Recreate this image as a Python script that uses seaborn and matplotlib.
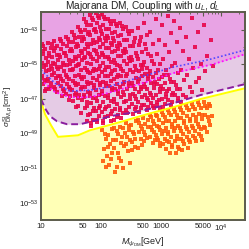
import numpy as np
import pandas as pd
import matplotlib
matplotlib.use("Agg")
import matplotlib.pyplot as plt
import seaborn as sns

# ---------------- data (log10 values) ----------------
# boundary curves: log10(M/GeV) and log10(sigma/cm^2)
blue_log_mass = [1.0, 1.233, 1.483, 1.817, 2.1, 2.65, 3.2, 3.767, 4.4]
blue_log_sigma = [-45.33, -46.09, -46.55, -46.49, -46.32, -45.74, -45.16, -44.75, -44.17]

magenta_log_mass = [1.0, 1.233, 1.483, 1.817, 2.1, 2.65, 3.2, 3.867, 4.4]
magenta_log_sigma = [-45.91, -46.61, -46.9, -46.9, -46.67, -46.14, -45.51, -44.99, -44.41]

dashed_log_mass = [1.0, 1.067, 1.15, 1.267, 1.433, 1.65, 1.933, 2.15, 2.65, 3.2, 3.65, 4.4]
dashed_log_sigma = [-47.0, -47.54, -48.0, -48.29, -48.46, -48.46, -48.23, -48.0, -47.71, -47.25, -46.78, -46.14]

yellow_log_mass = [1.0, 1.017, 1.067, 1.167, 1.283, 1.4, 1.617, 1.817, 2.0, 2.333, 2.817, 3.2, 3.65, 4.4]
yellow_log_sigma = [-46.61, -47.3, -47.88, -48.52, -49.19, -49.16, -49.1, -48.81, -48.64, -48.32, -47.83, -47.48, -47.01, -46.38]

# scan points above the yellow curve (red)
red_log_mass = [
    1.02, 1.06, 1.03, 1.08, 1.01, 1.05, 1.09, 1.02, 1.07, 1.04, 1.08,
    1.12, 1.17, 1.14, 1.19, 1.11, 1.16, 1.13, 1.18, 1.12, 1.17, 1.14,
    1.22, 1.27, 1.21, 1.26, 1.29, 1.23, 1.28, 1.21, 1.25, 1.29, 1.22, 1.27,
    1.31, 1.36, 1.33, 1.38, 1.32, 1.37, 1.34, 1.39, 1.31, 1.36, 1.33, 1.38, 1.35,
    1.42, 1.47, 1.44, 1.49, 1.41, 1.46, 1.43, 1.48, 1.42, 1.47, 1.44, 1.49, 1.41, 1.46,
    1.52, 1.57, 1.54, 1.59, 1.51, 1.56, 1.53, 1.58, 1.52, 1.57, 1.54, 1.59, 1.51, 1.56, 1.53, 1.58,
    1.62, 1.67, 1.64, 1.69, 1.61, 1.66, 1.63, 1.68, 1.62, 1.67, 1.64, 1.69, 1.61, 1.66, 1.63, 1.68, 1.62, 1.67,
    1.72, 1.77, 1.74, 1.79, 1.71, 1.76, 1.73, 1.78, 1.72, 1.77, 1.74, 1.79, 1.71, 1.76, 1.73, 1.78, 1.72, 1.77, 1.74, 1.79, 1.76,
    1.82, 1.87, 1.84, 1.89, 1.81, 1.86, 1.83, 1.88, 1.82, 1.87, 1.84, 1.89, 1.81, 1.86, 1.83, 1.88, 1.82, 1.87, 1.84, 1.89, 1.81, 1.86, 1.83,
    1.92, 1.97, 1.94, 1.99, 1.91, 1.96, 1.93, 1.98, 1.92, 1.97, 1.94, 1.99, 1.91, 1.96, 1.93, 1.98, 1.92, 1.97, 1.94, 1.99, 1.91, 1.96, 1.93,
    2.02, 2.07, 2.04, 2.09, 2.01, 2.06, 2.03, 2.08, 2.02, 2.07, 2.04, 2.09, 2.01, 2.06, 2.03, 2.08, 2.02, 2.07, 2.04, 2.09, 2.01, 2.06, 2.03,
    2.12, 2.17, 2.14, 2.19, 2.11, 2.16, 2.13, 2.18, 2.12, 2.17, 2.14, 2.19, 2.11, 2.16, 2.13, 2.18, 2.12, 2.17, 2.14, 2.19, 2.11, 2.16,
    2.22, 2.27, 2.24, 2.29, 2.21, 2.26, 2.23, 2.28, 2.22, 2.27, 2.24, 2.29, 2.21, 2.26, 2.23, 2.28, 2.22, 2.27, 2.24, 2.29, 2.21,
    2.32, 2.37, 2.34, 2.39, 2.31, 2.36, 2.33, 2.38, 2.32, 2.37, 2.34, 2.39, 2.31, 2.36, 2.33, 2.38, 2.32, 2.37, 2.34,
    2.42, 2.47, 2.44, 2.49, 2.41, 2.46, 2.43, 2.48, 2.42, 2.47, 2.44, 2.49, 2.41, 2.46, 2.43,
    2.52, 2.57, 2.54, 2.59, 2.51, 2.56, 2.53, 2.58, 2.52, 2.57, 2.54, 2.59, 2.51, 2.56, 2.53,
    2.62, 2.67, 2.64, 2.69, 2.61, 2.66, 2.63, 2.68, 2.62, 2.67, 2.64, 2.69, 2.61, 2.66, 2.63,
    2.72, 2.77, 2.74, 2.79, 2.71, 2.76, 2.73, 2.78, 2.72, 2.77, 2.74, 2.79, 2.71, 2.76,
    2.82, 2.87, 2.84, 2.89, 2.81, 2.86, 2.83, 2.88, 2.82, 2.87, 2.84, 2.89,
    2.92, 2.97, 2.94, 2.99, 2.91, 2.96, 2.93, 2.98, 2.92, 2.97, 2.94, 2.99,
    3.02, 3.07, 3.04, 3.09, 3.01, 3.06, 3.03, 3.08, 3.02, 3.07,
    3.12, 3.17, 3.14, 3.19, 3.11, 3.16, 3.13, 3.18, 3.12, 3.17,
    3.22, 3.27, 3.24, 3.29, 3.21, 3.26, 3.23, 3.28,
    3.32, 3.37, 3.34, 3.39, 3.31, 3.36, 3.33,
    3.42, 3.47, 3.44, 3.49, 3.41,
    3.52, 3.57, 3.54, 3.59, 3.51,
    3.62, 3.67, 3.64, 3.69,
    3.72, 3.77, 3.74,
    3.83, 3.86,
    # second pass over the dense part of the cloud
    1.04, 1.09, 1.00, 1.07, 1.03,
    1.13, 1.19, 1.10, 1.15, 1.18,
    1.24, 1.20, 1.28, 1.23, 1.26,
    1.34, 1.30, 1.39, 1.33, 1.37,
    1.45, 1.40, 1.48, 1.43, 1.46, 1.49,
    1.55, 1.50, 1.58, 1.53, 1.56, 1.59,
    1.65, 1.60, 1.68, 1.63, 1.66, 1.69, 1.61,
    1.75, 1.70, 1.78, 1.73, 1.76, 1.79, 1.71, 1.77,
    1.85, 1.80, 1.88, 1.83, 1.86, 1.89, 1.81, 1.87, 1.84,
    1.95, 1.90, 1.98, 1.93, 1.96, 1.99, 1.91, 1.97, 1.94,
    2.05, 2.00, 2.08, 2.03, 2.06, 2.09, 2.01, 2.07, 2.04,
    2.15, 2.10, 2.18, 2.13, 2.16, 2.19, 2.11, 2.17,
    2.25, 2.20, 2.28, 2.23, 2.26, 2.29, 2.21, 2.27,
    2.35, 2.30, 2.38, 2.33, 2.36, 2.39, 2.31,
    2.45, 2.40, 2.48, 2.43, 2.46, 2.49, 2.41,
    2.55, 2.50, 2.58, 2.53, 2.56, 2.59,
    2.65, 2.60, 2.68, 2.63, 2.66, 2.69,
    2.75, 2.70, 2.78, 2.73, 2.76, 2.79,
    2.85, 2.80, 2.88, 2.83, 2.86,
    2.95, 2.90, 2.98, 2.93,
    3.05, 3.00, 3.08, 3.03,
    3.15, 3.10, 3.18,
    3.25, 3.20, 3.28,
]
red_log_sigma = [
    -43.85, -44.10, -44.40, -44.65, -44.90, -45.15, -45.40, -45.65, -45.90, -46.15, -46.40,
    -43.75, -44.05, -44.35, -44.60, -44.85, -45.10, -45.35, -45.60, -45.85, -46.10, -46.45,
    -43.65, -43.95, -44.20, -44.45, -44.75, -45.00, -45.25, -45.50, -45.80, -46.05, -46.30, -46.60,
    -43.55, -43.80, -44.10, -44.35, -44.60, -44.90, -45.15, -45.40, -45.70, -45.95, -46.25, -46.55, -46.85,
    -43.40, -43.70, -43.95, -44.20, -44.50, -44.75, -45.05, -45.30, -45.60, -45.85, -46.15, -46.45, -46.70, -47.05,
    -43.15, -43.45, -43.70, -44.00, -44.25, -44.55, -44.80, -45.10, -45.35, -45.65, -45.95, -46.20, -46.50, -46.80, -47.10, -47.45,
    -42.85, -43.10, -43.40, -43.65, -43.95, -44.20, -44.50, -44.75, -45.05, -45.30, -45.60, -45.85, -46.15, -46.45, -46.75, -47.05, -47.40, -47.80,
    -42.40, -42.70, -43.00, -43.25, -43.55, -43.80, -44.10, -44.35, -44.65, -44.90, -45.20, -45.45, -45.75, -46.00, -46.30, -46.60, -46.90, -47.20, -47.55, -47.90, -48.30,
    -42.15, -42.45, -42.75, -43.00, -43.30, -43.60, -43.85, -44.15, -44.40, -44.70, -44.95, -45.25, -45.50, -45.80, -46.05, -46.35, -46.65, -46.95, -47.25, -47.55, -47.85, -48.20, -48.55,
    -42.05, -42.30, -42.60, -42.85, -43.15, -43.45, -43.70, -44.00, -44.25, -44.55, -44.80, -45.10, -45.35, -45.65, -45.90, -46.20, -46.50, -46.80, -47.10, -47.40, -47.70, -48.00, -48.35,
    -42.10, -42.40, -42.70, -42.95, -43.25, -43.50, -43.80, -44.05, -44.35, -44.60, -44.90, -45.15, -45.45, -45.70, -46.00, -46.25, -46.55, -46.85, -47.15, -47.45, -47.75, -48.05, -48.40,
    -42.35, -42.65, -42.95, -43.20, -43.50, -43.75, -44.05, -44.30, -44.60, -44.85, -45.15, -45.40, -45.70, -45.95, -46.25, -46.50, -46.80, -47.10, -47.40, -47.70, -48.00, -48.30,
    -42.50, -42.80, -43.10, -43.35, -43.65, -43.95, -44.20, -44.50, -44.75, -45.05, -45.30, -45.60, -45.85, -46.15, -46.40, -46.70, -47.00, -47.30, -47.60, -47.90, -48.20,
    -42.60, -42.95, -43.30, -43.60, -43.90, -44.20, -44.50, -44.80, -45.10, -45.40, -45.70, -46.00, -46.30, -46.60, -46.90, -47.20, -47.50, -47.80, -48.10,
    -42.85, -43.25, -43.60, -43.95, -44.30, -44.65, -45.00, -45.35, -45.70, -46.05, -46.40, -46.75, -47.10, -47.45, -47.80,
    -43.05, -43.50, -43.95, -44.35, -44.75, -45.10, -45.45, -45.80, -46.10, -46.40, -46.70, -47.00, -47.30, -47.60, -47.85,
    -42.90, -43.40, -43.90, -44.30, -44.70, -45.05, -45.40, -45.70, -46.00, -46.30, -46.60, -46.90, -47.20, -47.50, -47.75,
    -42.60, -43.30, -43.85, -44.40, -44.85, -45.20, -45.55, -45.85, -46.15, -46.45, -46.75, -47.05, -47.35, -47.65,
    -43.10, -43.80, -44.50, -45.00, -45.40, -45.75, -46.05, -46.35, -46.65, -46.95, -47.25, -47.55,
    -42.40, -43.60, -44.40, -45.00, -45.50, -45.85, -46.15, -46.45, -46.75, -47.05, -47.35, -47.60,
    -42.70, -43.90, -44.70, -45.30, -45.75, -46.10, -46.40, -46.70, -47.00, -47.30,
    -42.20, -43.20, -44.30, -45.10, -45.60, -46.00, -46.40, -46.75, -47.05, -47.35,
    -42.50, -43.70, -44.90, -45.50, -46.00, -46.40, -46.80, -47.10,
    -42.90, -44.20, -45.30, -45.90, -46.40, -46.80, -47.15,
    -43.40, -44.70, -45.60, -46.30, -46.90,
    -42.30, -44.00, -45.20, -46.00, -46.60,
    -43.10, -45.00, -45.80, -46.50,
    -42.70, -44.50, -45.40,
    -43.60, -45.10,
    # second pass
    -44.25, -45.05, -45.80, -46.55, -43.95,
    -44.50, -45.25, -45.95, -46.30, -43.85,
    -44.05, -44.90, -45.65, -46.45, -45.15,
    -43.65, -44.45, -45.05, -45.85, -46.40,
    -43.55, -44.35, -44.95, -45.75, -46.30, -46.85,
    -43.30, -44.10, -44.70, -45.25, -46.05, -46.65,
    -43.00, -43.80, -44.35, -44.95, -45.75, -46.30, -46.95,
    -42.55, -43.40, -44.00, -44.55, -45.30, -46.15, -46.75, -47.40,
    -42.30, -43.15, -43.75, -44.55, -45.40, -46.20, -46.85, -47.70, -48.40,
    -42.20, -42.95, -43.60, -44.40, -45.25, -46.05, -46.95, -47.55, -48.20,
    -42.25, -43.05, -43.65, -44.45, -45.30, -46.10, -46.70, -47.60, -48.25,
    -42.50, -43.35, -43.90, -44.70, -45.55, -46.35, -46.95, -47.85,
    -42.65, -43.50, -44.10, -44.90, -45.75, -46.55, -47.15, -48.05,
    -42.80, -43.75, -44.35, -45.25, -46.15, -46.75, -47.65,
    -43.05, -44.10, -44.80, -45.55, -46.25, -47.00, -47.65,
    -43.70, -44.55, -45.30, -46.25, -46.85, -47.45,
    -43.65, -44.50, -45.25, -45.85, -46.45, -47.35,
    -44.10, -45.05, -45.70, -46.30, -46.95, -47.45,
    -44.80, -45.55, -46.15, -46.80, -47.40,
    -45.30, -46.00, -46.60, -47.20,
    -45.60, -46.25, -46.90, -47.45,
    -45.85, -46.55, -47.15,
    -46.20, -46.65, -46.95,
]

# scan points below the yellow curve (orange)
orange_log_mass = [
    2.02, 2.08, 2.05, 2.12, 2.15, 2.10, 2.18, 2.03, 2.13, 2.19,
    2.22, 2.28, 2.25, 2.31, 2.35, 2.22, 2.30, 2.38, 2.26, 2.33, 2.37, 2.24,
    2.42, 2.47, 2.44, 2.50, 2.55, 2.52, 2.58, 2.45, 2.56, 2.48, 2.41,
    2.62, 2.67, 2.64, 2.70, 2.74, 2.72, 2.78, 2.66, 2.76, 2.69, 2.61,
    2.82, 2.86, 2.84, 2.89, 2.81, 2.87, 2.92, 2.96, 2.93, 2.98, 2.91, 2.95, 2.99,
    3.02, 3.06, 3.04, 3.09, 3.01, 3.07, 3.03, 3.08, 3.12, 3.16, 3.14, 3.19, 3.11, 3.17, 3.13, 3.18, 3.15,
    3.22, 3.26, 3.24, 3.29, 3.21, 3.27, 3.23, 3.28, 3.25, 3.32, 3.36, 3.34, 3.39, 3.31, 3.37, 3.33, 3.38, 3.35,
    3.42, 3.46, 3.44, 3.49, 3.41, 3.47, 3.43, 3.48, 3.45, 3.52, 3.56, 3.54, 3.59, 3.51, 3.57, 3.53, 3.58,
    3.62, 3.66, 3.64, 3.69, 3.61, 3.67, 3.63, 3.68, 3.72, 3.76, 3.74, 3.79, 3.71, 3.77, 3.82, 3.84, 3.81,
    # second pass
    2.06, 2.11, 2.16, 2.09, 2.20,
    2.27, 2.33, 2.29, 2.36, 2.40,
    2.46, 2.53, 2.49, 2.57, 2.51,
    2.63, 2.68, 2.73, 2.79, 2.71,
    2.83, 2.88, 2.85, 2.90, 2.94, 2.97, 2.93, 2.98,
    3.04, 3.09, 3.05, 3.10, 3.14, 3.18, 3.12, 3.19,
    3.24, 3.29, 3.23, 3.27, 3.30, 3.34, 3.39, 3.33, 3.36,
    3.44, 3.48, 3.43, 3.46, 3.54, 3.58, 3.53, 3.56,
    3.64, 3.68, 3.63, 3.66, 3.74, 3.78, 3.73, 3.80,
]
orange_log_sigma = [
    -48.80, -49.30, -49.90, -49.10, -49.60, -50.30, -48.75, -50.60, -50.80, -50.10,
    -48.70, -49.00, -49.40, -48.60, -49.20, -49.85, -50.40, -49.70, -50.95, -50.60, -48.70, -51.20,
    -48.40, -48.80, -49.20, -48.50, -49.00, -49.50, -48.30, -50.00, -49.80, -50.70, -49.60,
    -48.20, -48.55, -48.90, -48.10, -48.45, -48.90, -48.20, -49.30, -49.25, -49.65, -49.85,
    -47.95, -48.25, -48.60, -48.90, -49.20, -49.55, -47.90, -48.20, -48.55, -48.80, -49.10, -49.40, -49.70,
    -47.75, -48.05, -48.40, -48.70, -49.00, -49.30, -49.60, -49.90, -47.65, -47.95, -48.30, -48.60, -48.90, -49.20, -49.50, -49.80, -50.10,
    -47.60, -47.90, -48.25, -48.55, -48.85, -49.15, -49.45, -49.75, -50.10, -47.45, -47.80, -48.10, -48.40, -48.70, -49.00, -49.30, -49.60, -49.95,
    -47.35, -47.65, -48.00, -48.30, -48.60, -48.90, -49.20, -49.50, -49.85, -47.30, -47.60, -47.95, -48.25, -48.55, -48.85, -49.15, -49.45,
    -47.20, -47.50, -47.85, -48.15, -48.45, -48.75, -49.05, -49.35, -47.20, -47.55, -47.90, -48.25, -48.60, -48.90, -47.40, -48.00, -48.50,
    # second pass
    -49.05, -49.75, -50.45, -50.95, -49.35,
    -48.85, -49.55, -50.15, -51.00, -48.95,
    -48.55, -48.90, -49.35, -49.30, -49.95,
    -48.40, -48.75, -49.10, -48.65, -49.45,
    -48.05, -48.45, -48.80, -49.35, -48.00, -48.65, -49.25, -49.55,
    -47.90, -48.25, -48.85, -49.45, -47.80, -48.45, -49.05, -49.65,
    -47.75, -48.10, -48.70, -49.30, -49.90, -47.65, -48.25, -48.85, -49.45,
    -47.50, -48.15, -48.75, -49.35, -47.45, -48.05, -48.70, -49.25,
    -47.35, -47.95, -48.60, -49.15, -47.40, -48.05, -48.70, -47.30,
]

x_tick_values = [10, 50, 100, 500, 1000, 5000, 10000]
x_tick_labels = ["10", "50", "100", "500", "1000", "5000", r"$10^4$"]
y_label_exponents = [-53, -51, -49, -47, -45, -43]

# ---------------- styling ----------------
sns.set_style("ticks")
plt.rcParams["font.family"] = ["Liberation Sans", "DejaVu Sans"]
plt.rcParams["mathtext.fontset"] = "custom"
plt.rcParams["mathtext.rm"] = "Liberation Sans"
plt.rcParams["mathtext.it"] = "Liberation Sans:italic"
plt.rcParams["mathtext.bf"] = "Liberation Sans:bold"

XMIN, XMAX = 10, 2.5e4
YMIN, YMAX = 1e-54, 1e-42

fig = plt.figure(figsize=(2.49, 2.49), dpi=100)
ax = fig.add_axes([41 / 249, 29 / 249, 204 / 249, 207.5 / 249])
ax.set_xscale("log")
ax.set_yscale("log")
ax.set_xlim(XMIN, XMAX)
ax.set_ylim(YMIN, YMAX)

violet = "#e8a3e4"
lavender = "#e5cbe5"
light_yellow = "#ffffb6"
ax.set_facecolor(violet)

def pow10(a):
    return 10 ** np.asarray(a, dtype=float)

mag_x, mag_y = pow10(magenta_log_mass), pow10(magenta_log_sigma)
dash_x, dash_y = pow10(dashed_log_mass), pow10(dashed_log_sigma)
yel_x, yel_y = pow10(yellow_log_mass), pow10(yellow_log_sigma)

ax.fill_between(mag_x, YMIN, mag_y, color=lavender, lw=0, zorder=0.5)
ax.fill_between(dash_x, YMIN, dash_y, color="white", lw=0, zorder=0.6)
ax.fill_between(yel_x, YMIN, yel_y, color=light_yellow, lw=0, zorder=0.7)

red_df = pd.DataFrame({"M": pow10(red_log_mass), "sigma": pow10(red_log_sigma)})
orange_df = pd.DataFrame({"M": pow10(orange_log_mass), "sigma": pow10(orange_log_sigma)})
sns.scatterplot(data=red_df, x="M", y="sigma", ax=ax, marker="s", s=5.5,
                color="#e8064a", linewidth=0, alpha=0.9, zorder=2)
sns.scatterplot(data=orange_df, x="M", y="sigma", ax=ax, marker="s", s=5.5,
                color="#ff5a0a", linewidth=0, alpha=0.9, zorder=2)

blue_df = pd.DataFrame({"M": pow10(blue_log_mass), "sigma": pow10(blue_log_sigma)})
mag_df = pd.DataFrame({"M": mag_x, "sigma": mag_y})
dash_df = pd.DataFrame({"M": dash_x, "sigma": dash_y})
yel_df = pd.DataFrame({"M": yel_x, "sigma": yel_y})

sns.lineplot(data=yel_df, x="M", y="sigma", ax=ax, color="#ffff00", lw=1.4, zorder=3)
sns.lineplot(data=dash_df, x="M", y="sigma", ax=ax, color="#8a1e9e", lw=1.4, zorder=3).lines[-1].set_dashes([3.5, 2])
sns.lineplot(data=mag_df, x="M", y="sigma", ax=ax, color="#ff10ff", lw=1.3, zorder=3).lines[-1].set_dashes([1, 1.3])
sns.lineplot(data=blue_df, x="M", y="sigma", ax=ax, color="#5548ff", lw=1.2, zorder=3).lines[-1].set_dashes([1, 1.3])

# ticks
ax.set_xticks(x_tick_values)
ax.set_xticklabels(x_tick_labels)
minor_x = [v * m for v in [10, 100, 1000, 10000] for m in range(2, 10) if v * m < XMAX and v * m not in x_tick_values]
ax.set_xticks(minor_x, minor=True)
ax.set_xticklabels([], minor=True)
ax.set_yticks([10.0 ** e for e in y_label_exponents])
ax.set_yticklabels([rf"$10^{{{e}}}$" for e in y_label_exponents])
ax.set_yticks([10.0 ** e for e in range(-54, -41) if e not in y_label_exponents], minor=True)
ax.set_yticklabels([], minor=True)

frame = "#5c5c4c"
ax.tick_params(which="both", direction="in", top=True, right=True, colors=frame,
               labelcolor="#222222", labelsize=5.6, pad=2)
ax.tick_params(which="major", length=3, width=0.8)
ax.tick_params(which="minor", length=1.6, width=0.6)
for sp in ax.spines.values():
    sp.set_color(frame)
    sp.set_linewidth(1.4)
    sp.set_zorder(5)

ax.set_xlabel(r"$M_{\psi_{\rm DM}}$[GeV]", fontsize=6.5, labelpad=1, color="#222222")
ax.set_ylabel(r"$\sigma^{\rm SI}_{{\rm DM},p}$[cm$^2$]", fontsize=6, color="#222222")
ax.yaxis.set_label_coords(-0.125, 0.545)
ax.set_title(r"Majorana DM, Coupling with $u_L,d_L$", fontsize=7.3, pad=1.5, color="#222222")

fig.savefig("out.png", dpi=100)
